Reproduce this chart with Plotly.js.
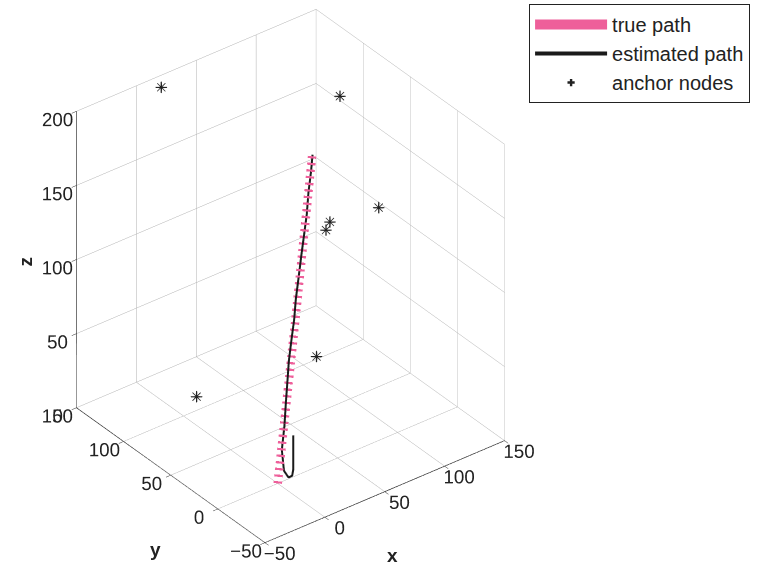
<!DOCTYPE html>
<html>
<head>
<meta charset="utf-8">
<script src="https://cdn.plot.ly/plotly-3.0.1.min.js"></script>
<style>html,body{margin:0;padding:0;background:#fff;}#plot{width:758px;height:578px;}</style>
</head>
<body>
<div id="plot"></div>
<script>
// ---- data ----
var truePathX = [0, 22, 44];
var truePathY = [0, 9, 19];
var truePathZ = [0, 100, 200];

var estPathX = [13, 13, 12, 9, 6, 5, 8, 10, 12, 14, 17, 20, 23, 27, 30, 33, 36, 39, 42, 44];
var estPathY = [0, 0, 0, 0, 1, 2, 3, 4, 5, 6, 7, 8, 10, 12, 13, 14, 15, 17, 18, 19];
var estPathZ = [28, 5, 1, 1, 6, 20, 35, 50, 62, 75, 88, 100, 112, 125, 138, 150, 162, 175, 188, 198];

var anchorX = [12, 99, 92, 56, 48, 59, 21];
var anchorY = [139, 60, 10, 16, 10, 34, 113];
var anchorZ = [200, 200, 150, 150, 150, 50, 0];

var xTicks = [-50, 0, 50, 100, 150];
var yTicks = [-50, 0, 50, 100, 150];
var zTicks = [0, 50, 100, 150, 200];

var FONT = 'Liberation Sans, Arial, Helvetica, sans-serif';
var PINK = '#ee5f9a';

function axis(range, ticks) {
  return {
    range: range,
    tickvals: ticks,
    ticktext: ticks.map(function(v){ return v < 0 ? '\u2212' + Math.abs(v) : String(v); }),
    autorange: false,
    title: {text: ''},
    tickfont: {family: FONT, size: 15, color: '#222'},
    tickangle: 0,
    showbackground: false,
    showgrid: true,
    gridcolor: '#b0b0b0',
    gridwidth: 1,
    zeroline: false,
    showline: true,
    linecolor: '#222',
    linewidth: 1.5,
    ticks: 'outside',
    ticklen: 6,
    tickcolor: '#222',
    showspikes: false
  };
}

var traces = [
  {
    // legend entry only (a single vertex draws no segment)
    type: 'scatter3d', mode: 'lines', name: 'true path', legendrank: 1,
    x: truePathX.slice(0, 1), y: truePathY.slice(0, 1), z: truePathZ.slice(0, 1),
    line: {color: PINK, width: 17}
  },
  {
    type: 'scatter3d', mode: 'lines', name: 'true path (dashed)', showlegend: false,
    x: truePathX, y: truePathY, z: truePathZ,
    line: {color: PINK, width: 17, dash: 'dash'}
  },
  {
    type: 'scatter3d', mode: 'lines', name: 'estimated path', legendrank: 2,
    x: estPathX, y: estPathY, z: estPathZ,
    line: {color: '#1a1a1a', width: 4}
  },
  {
    type: 'scatter3d', mode: 'markers', name: 'anchor nodes', legendrank: 3,
    x: anchorX, y: anchorY, z: anchorZ,
    marker: {symbol: 'cross', size: 6, color: '#222'}
  },
  {
    type: 'scatter3d', mode: 'text', name: 'anchor nodes *', showlegend: false,
    x: anchorX, y: anchorY, z: anchorZ,
    text: anchorX.map(function(){ return '\u2733'; }),
    textposition: 'middle center',
    textfont: {size: 16, color: '#222'}
  }
];

var k = 1.9;
var s = 1.047;
var titleFont = {family: FONT, size: 19, color: '#222'};
var layout = {
  width: 758, height: 578,
  margin: {l: 0, r: 0, t: 0, b: 0},
  paper_bgcolor: '#fff',
  font: {family: FONT, size: 18, color: '#222'},
  showlegend: true,
  legend: {
    x: 0.698, y: 0.993, xanchor: 'left', yanchor: 'top',
    bordercolor: '#222', borderwidth: 1, bgcolor: '#fff',
    font: {family: FONT, size: 20, color: '#222'},
    itemwidth: 72, tracegroupgap: 0
  },
  annotations: [
    {xref: 'paper', yref: 'paper', x: 392 / 758, y: 1 - 568 / 578, text: '<b>x</b>', showarrow: false, font: titleFont},
    {xref: 'paper', yref: 'paper', x: 148 / 758, y: 1 - 562 / 578, text: '<b>y</b>', showarrow: false, font: titleFont},
    {xref: 'paper', yref: 'paper', x: 12 / 758, y: 1 - 262 / 578, text: '<b>z</b>', showarrow: false, font: titleFont, textangle: -90}
  ],
  scene: {
    domain: {x: [0, 0.766], y: [0, 1]},
    aspectmode: 'manual',
    aspectratio: {x: 1 * s, y: 1.02 * s, z: 1.175 * s},
    camera: {
      projection: {type: 'orthographic'},
      up: {x: 0, y: 0, z: 1},
      center: {x: 0, y: 0, z: -0.054},
      eye: {x: -0.509 * k, y: -0.660 * k, z: 0.552 * k - 0.054}
    },
    xaxis: axis([-50, 150], xTicks),
    yaxis: axis([-50, 150], yTicks),
    zaxis: axis([0, 200], zTicks)
  }
};

Plotly.newPlot('plot', traces, layout, {displayModeBar: false});
</script>
</body>
</html>
